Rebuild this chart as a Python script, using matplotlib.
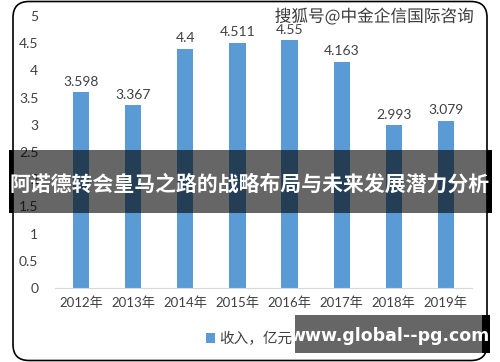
import matplotlib
matplotlib.use('Agg')
import matplotlib.pyplot as plt
import matplotlib.patheffects as pe
from matplotlib.patches import FancyBboxPatch, Rectangle

plt.rcParams['font.family'] = ['Lato', 'Noto Sans CJK SC', 'DejaVu Sans']

years = ['2012年', '2013年', '2014年', '2015年', '2016年', '2017年', '2018年', '2019年']
revenue = [3.598, 3.367, 4.4, 4.511, 4.55, 4.163, 2.993, 3.079]
labels = ['3.598', '3.367', '4.4', '4.511', '4.55', '4.163', '2.993', '3.079']
yticks = [0, 0.5, 1, 1.5, 2, 2.5, 3, 3.5, 4, 4.5, 5]
series_name = '收入，亿元'
title = '阿诺德转会皇马之路的战略布局与未来发展潜力分析'
watermark = '搜狐号@中金企信国际咨询'
site = 'www.global--pg.com'

W, H = 500, 362
fig = plt.figure(figsize=(W / 100, H / 100), dpi=100)

ax = fig.add_axes([55 / W, 1 - 288 / H, 417 / W, 272 / H])
x = range(len(years))
bars = ax.bar(x, revenue, width=0.31, color='#5B9BD5', label=series_name)
for b, t in zip(bars, labels):
    ax.annotate(t, (b.get_x() + b.get_width() / 2, b.get_height()),
                xytext=(0, 3), textcoords='offset points',
                ha='center', va='bottom', fontsize=10, color='#404040')
ax.set_xlim(-0.5, len(years) - 0.5)
ax.set_ylim(0, 5)
ax.set_yticks(yticks)
ax.set_yticklabels([('%g' % v) for v in yticks])
ax.set_xticks(list(x))
ax.set_xticklabels(years)
ax.tick_params(axis='y', length=0, pad=12, labelsize=10, labelcolor='#404040')
ax.tick_params(axis='x', length=0, pad=6, labelsize=9.5, labelcolor='#404040')
for s in ['top', 'right', 'left']:
    ax.spines[s].set_visible(False)
ax.spines['bottom'].set_color('#d9d9d9')
ax.legend(loc='center left', bbox_to_anchor=(206 / W, 1 - 339 / H),
          bbox_transform=fig.transFigure, frameon=False, fontsize=10.5,
          borderpad=0, borderaxespad=0,
          handlelength=0.6, handleheight=0.6, handletextpad=0.3,
          labelcolor='#404040')

# overlay in pixel coordinates
ov = fig.add_axes([0, 0, 1, 1], zorder=5)
ov.set_xlim(0, W)
ov.set_ylim(H, 0)
ov.axis('off')
ov.patch.set_alpha(0)

ov.add_patch(FancyBboxPatch((13, 1.5), 474, 359, boxstyle='round,pad=0,rounding_size=16',
                            fill=False, edgecolor='black', linewidth=1.2))

ov.text(374, 17, watermark, ha='center', va='center', fontsize=12,
        family=['Noto Sans CJK SC', 'DejaVu Sans'], color='#3a3a3a',
        path_effects=[pe.withStroke(linewidth=2, foreground='white')])

# banner
ov.add_patch(Rectangle((9, 150), 483, 63, facecolor='black', alpha=0.6, edgecolor='none'))
ov.add_patch(Rectangle((9, 150), 4, 63, facecolor='black', edgecolor='none'))
ov.add_patch(Rectangle((487, 150), 5, 63, facecolor='black', edgecolor='none'))
ov.text(250, 184, title, ha='center', va='center', fontsize=15, fontweight='bold',
        family=['Noto Sans CJK SC', 'DejaVu Sans'], color='white')

# site box
ov.add_patch(Rectangle((295, 315), 195, 38, facecolor='#666666', edgecolor='none'))
ov.add_patch(Rectangle((482, 315), 8, 38, facecolor='black', edgecolor='none'))
ov.text(390, 336, site, ha='center', va='center', fontsize=12.5, fontweight='bold',
        family=['DejaVu Sans'], color='white')

fig.savefig('out.png', dpi=100)
